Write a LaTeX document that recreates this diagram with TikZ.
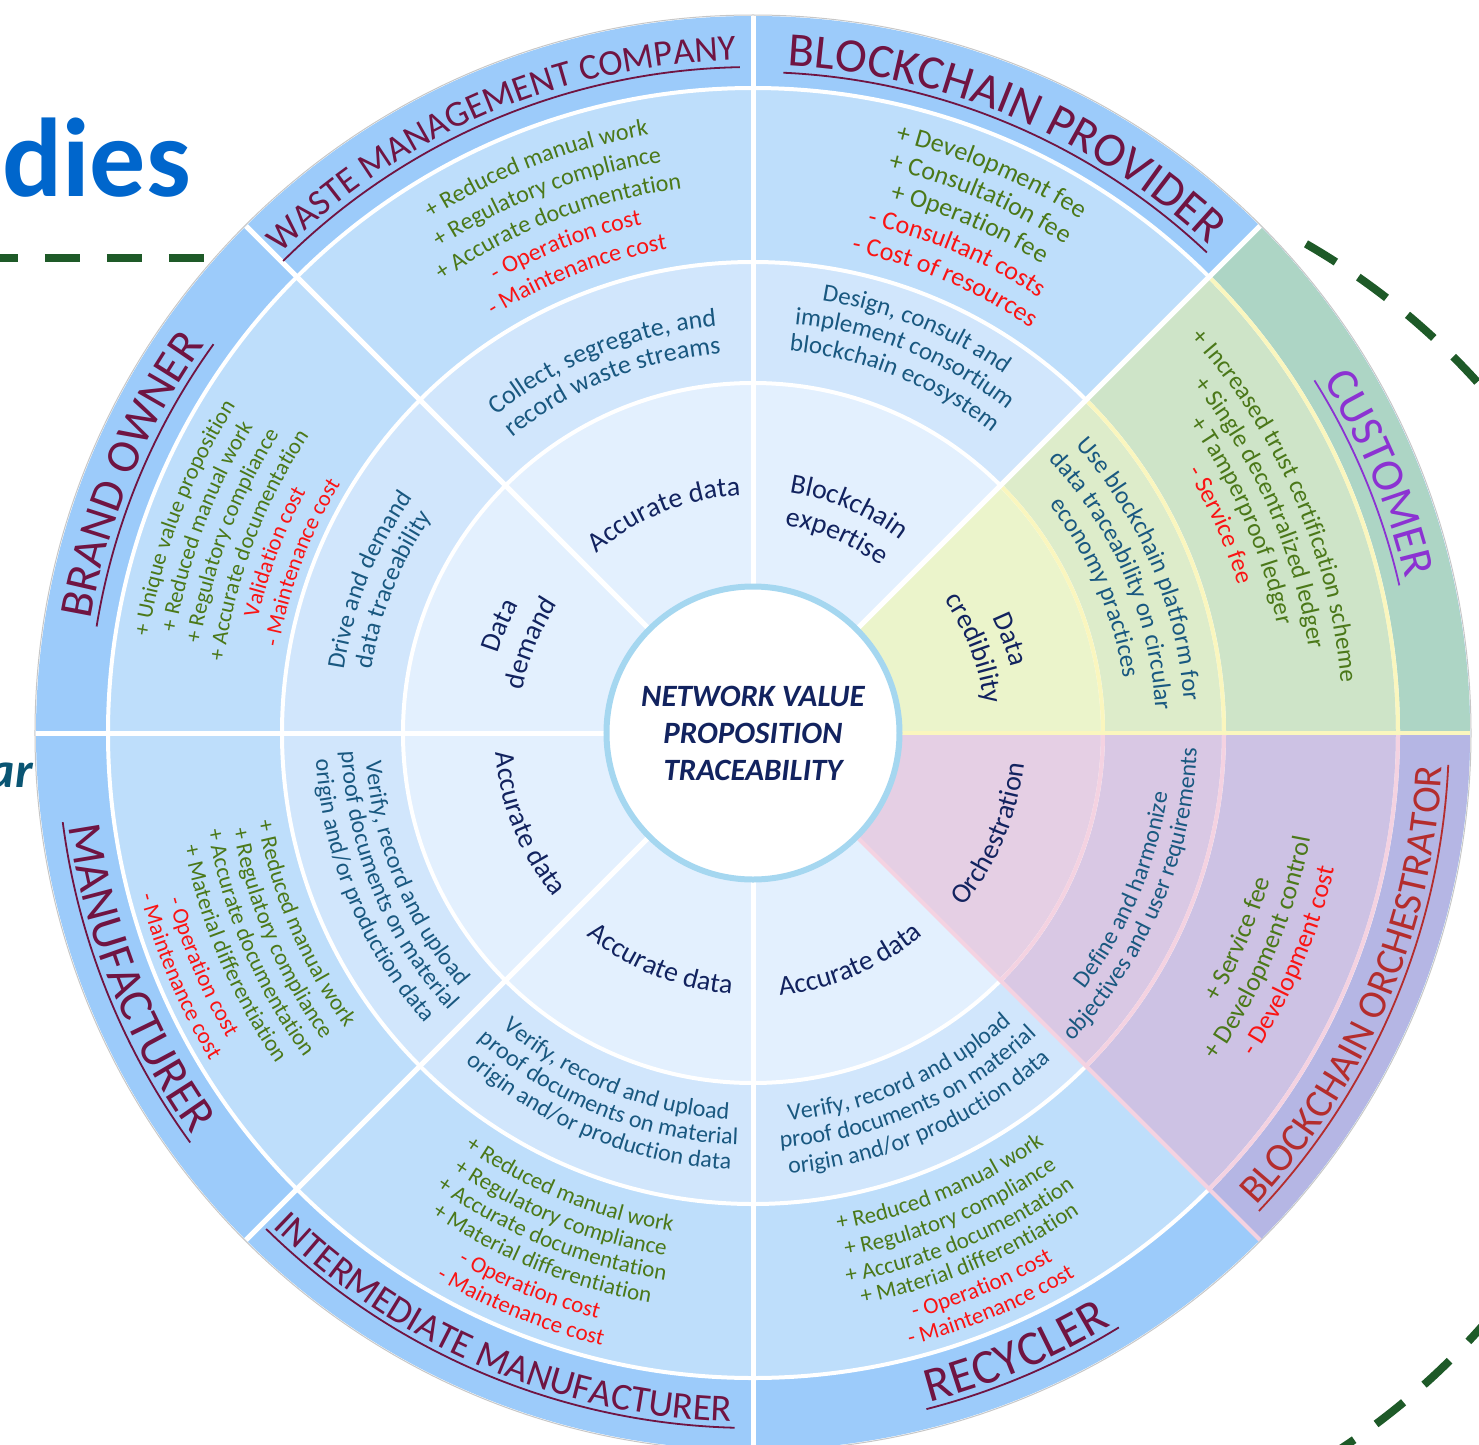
\documentclass[tikz,border=0pt]{standalone}
\usepackage{fontspec}
\setmainfont{Carlito}
\usetikzlibrary{decorations.text}
\definecolor{ring-name}{RGB}{156,203,250}
\definecolor{ring-gain}{RGB}{190,222,251}
\definecolor{ring-role}{RGB}{209,230,252}
\definecolor{ring-value}{RGB}{227,240,254}
\definecolor{cust-name}{RGB}{173,213,197}
\definecolor{cust-gain}{RGB}{206,228,200}
\definecolor{cust-role}{RGB}{221,236,202}
\definecolor{cust-value}{RGB}{235,244,203}
\definecolor{cust-line}{RGB}{250,246,190}
\definecolor{orch-name}{RGB}{181,182,228}
\definecolor{orch-gain}{RGB}{205,194,228}
\definecolor{orch-role}{RGB}{217,200,228}
\definecolor{orch-value}{RGB}{229,207,228}
\definecolor{orch-line}{RGB}{244,210,225}
\definecolor{hub-rim}{RGB}{165,215,240}
\definecolor{actor-red}{RGB}{112,20,66}
\definecolor{actor-purple}{RGB}{140,50,210}
\definecolor{actor-brick}{RGB}{180,45,45}
\definecolor{plus-green}{RGB}{75,120,25}
\definecolor{minus-red}{RGB}{250,20,20}
\definecolor{role-teal}{RGB}{25,88,128}
\definecolor{value-navy}{RGB}{18,35,95}
\definecolor{slide-blue}{RGB}{0,102,204}
\definecolor{slide-teal}{RGB}{10,85,115}
\definecolor{slide-green}{RGB}{30,90,40}
\newcommand\fsz[1]{\fontsize{#1}{#1}\selectfont}
\newcommand\gainfmt[1]{\fsz{#1}\color{plus-green}}
\newcommand\lossfmt[1]{\fsz{#1}\color{minus-red}}
\newcommand\rolefmt[1]{\fsz{#1}\color{role-teal}}
\newcommand\valuefmt{\fsz{28}\color{value-navy}}
% text on an arc: upper half read clockwise, lower half counter-clockwise
\newcommand\arcup[4]{\path[decorate,decoration={text along path,text align=center,text={|#3|#4}}]
	({#1+70}:#2) arc[start angle={#1+70},end angle={#1-70},radius=#2];}
\newcommand\arcdown[4]{\path[decorate,decoration={text along path,text align=center,text={|#3|#4}}]
	({#1-70}:#2) arc[start angle={#1-70},end angle={#1+70},radius=#2];}
% half the angle an actor name takes, measured on a hidden node
\newcommand\namespan[3]{\node[inner sep=0,font=\fsz{#2}] (namebox) at (0,0) {\phantom{#3}};
	\path (namebox.west); \pgfgetlastxy{\nwx}{\nwy}
	\path (namebox.east); \pgfgetlastxy{\nex}{\ney}
	\pgfmathsetmacro\uhalf{0.5*(\nex-\nwx)/#1*57.296+0.5}}
% actor names with their underline
\newcommand\nameup[5]{\namespan{#2}{#3}{#5}
	\arcup{#1}{#2}{\fsz{#3}\color{#4}}{#5}
	\draw[#4,line width=1.8] ({#1+\uhalf}:{#2-7}) arc[start angle={#1+\uhalf},end angle={#1-\uhalf},radius={#2-7}];}
\newcommand\namedown[5]{\namespan{#2}{#3}{#5}
	\arcdown{#1}{#2}{\fsz{#3}\color{#4}}{#5}
	\draw[#4,line width=1.8] ({#1-\uhalf}:{#2+6}) arc[start angle={#1-\uhalf},end angle={#1+\uhalf},radius={#2+6}];}
\begin{document}
\begin{tikzpicture}[x=1pt,y=1pt]
			\useasboundingbox (-753,-711) rectangle (726,733);
			\clip (-753,-711) rectangle (726,733);
			\node[anchor=base west,inner sep=0,font=\fsz{112}\bfseries,text=slide-blue] (heading) at (-751,536) {dies};	% slide title
			\node[anchor=base east,inner sep=0,font=\fsz{50}\bfseries\itshape,text=slide-teal] (subhead) at (-720,-54) {ar};
			\draw[slide-green,line width=8,dash pattern=on 35 off 27] (-770,475) -- (-549,475);			% dashed frame
			\draw[slide-green,line width=8,dash pattern=on 35 off 27] (199,-124) ++(60:708) arc[start angle=60,end angle=-62,radius=708];
			\fill[ring-name] (0,0) circle (717);								% rings
			\fill[ring-gain] (0,0) circle (645);
			\fill[ring-role] (0,0) circle (471);
			\fill[ring-value] (0,0) circle (350);
			\foreach \a/\b/\p in {0/45/cust,-45/0/orch}{						% coloured sectors
				\fill[fill=\p-name] (0,0) -- (\a:717) arc[start angle=\a,end angle=\b,radius=717] -- cycle;
				\fill[fill=\p-gain] (0,0) -- (\a:645) arc[start angle=\a,end angle=\b,radius=645] -- cycle;
				\fill[fill=\p-role] (0,0) -- (\a:471) arc[start angle=\a,end angle=\b,radius=471] -- cycle;
				\fill[fill=\p-value] (0,0) -- (\a:350) arc[start angle=\a,end angle=\b,radius=350] -- cycle;
			}
			\foreach \r in {350,471,645}{									% ring borders
				\draw[white,line width=4] (0,0) circle (\r);
				\draw[cust-line,line width=4] (0:\r) arc[start angle=0,end angle=45,radius=\r];
				\draw[orch-line,line width=4] (-45:\r) arc[start angle=-45,end angle=0,radius=\r];
			}
			\foreach \a in {45,90,...,270}{								% sector borders
				\draw[white,line width=5] (\a:146) -- (\a:717);
			}
			\draw[orch-line,line width=4] (315:146) -- (315:717);
			\draw[cust-line,line width=4] (0:146) -- (0:717);
			\draw[black!22,line width=1] (0,0) circle (718);					% rim
			\node[circle,draw=hub-rim,line width=6,fill=white,minimum size=293,align=center,
				font=\fontsize{31}{37}\selectfont\bfseries\itshape,text=value-navy] (hub) at (0,0)
				{NETWORK VALUE\\PROPOSITION\\TRACEABILITY};
			% waste management company
			\nameup{113}{673}{36.5}{actor-red}{WASTE MANAGEMENT COMPANY}
			\arcup{111}{607}{\gainfmt{24}}{+ Reduced manual work}
			\arcup{111}{578}{\gainfmt{24}}{+ Regulatory compliance}
			\arcup{111}{549}{\gainfmt{24}}{+ Accurate documentation}
			\arcup{111}{520}{\lossfmt{24}}{- Operation cost}
			\arcup{111}{491}{\lossfmt{24}}{- Maintenance cost}
			\arcup{112}{408}{\rolefmt{26}}{Collect, segregate, and}
			\arcup{112}{381}{\rolefmt{26}}{record waste streams}
			\arcup{112}{238}{\valuefmt}{Accurate data}
			% blockchain provider
			\nameup{67}{668}{48}{actor-red}{BLOCKCHAIN PROVIDER}
			\arcup{67}{609}{\gainfmt{26}}{+ Development fee}
			\arcup{67}{580}{\gainfmt{26}}{+ Consultation fee}
			\arcup{67}{551}{\gainfmt{26}}{+ Operation fee}
			\arcup{67}{521}{\lossfmt{26}}{- Consultant costs}
			\arcup{67}{491}{\lossfmt{26}}{- Cost of resources}
			\arcup{68}{438}{\rolefmt{25}}{Design, consult and}
			\arcup{68}{411}{\rolefmt{25}}{implement consortium}
			\arcup{68}{384}{\rolefmt{25}}{blockchain ecosystem}
			\arcup{67}{243}{\valuefmt}{Blockchain}
			\arcup{67}{210}{\valuefmt}{expertise}
			% customer
			\nameup{22.5}{670}{46}{actor-purple}{CUSTOMER}
			\arcup{23.5}{590}{\gainfmt{25}}{+ Increased trust certification scheme}
			\arcup{23.5}{562}{\gainfmt{25}}{+ Single decentralized ledger}
			\arcup{23.5}{535}{\gainfmt{25}}{+ Tamperproof ledger}
			\arcup{24}{507}{\lossfmt{25}}{- Service fee}
			\arcup{23}{432}{\rolefmt{25}}{Use blockchain platform for}
			\arcup{23}{403}{\rolefmt{25}}{data traceability on circular}
			\arcup{23}{374}{\rolefmt{25}}{economy practices}
			\arcup{20}{266}{\valuefmt}{Data}
			\arcup{21}{233}{\valuefmt}{credibility}
			% brand owner
			\nameup{157.5}{672}{47}{actor-red}{BRAND OWNER}
			\arcup{159.3}{612}{\gainfmt{22.5}}{+ Unique value proposition}
			\arcup{159.3}{586}{\gainfmt{22.5}}{+ Reduced manual work}
			\arcup{159.3}{560}{\gainfmt{22.5}}{+ Regulatory compliance}
			\arcup{159.3}{534}{\gainfmt{22.5}}{+ Accurate documentation}
			\arcup{159.3}{508}{\lossfmt{22.5}}{Validation cost}
			\arcup{159.3}{482}{\lossfmt{22.5}}{- Maintenance cost}
			\arcup{158.3}{414}{\rolefmt{25}}{Drive and demand}
			\arcup{158.3}{387}{\rolefmt{25}}{data traceability}
			\arcup{157}{267}{\valuefmt}{Data}
			\arcup{158}{234}{\valuefmt}{demand}
			% manufacturer
			\namedown{201.7}{690}{48}{actor-red}{MANUFACTURER}
			\arcdown{203}{503}{\gainfmt{23}}{+ Reduced manual work}
			\arcdown{203}{529}{\gainfmt{23}}{+ Regulatory compliance}
			\arcdown{203}{554}{\gainfmt{23}}{+ Accurate documentation}
			\arcdown{203}{580}{\gainfmt{23}}{+ Material differentiation}
			\arcdown{203}{608}{\lossfmt{23}}{- Operation cost}
			\arcdown{203}{634}{\lossfmt{23}}{- Maintenance cost}
			\arcdown{202.5}{388}{\rolefmt{24}}{Verify, record and upload}
			\arcdown{202.5}{412}{\rolefmt{24}}{proof documents on material}
			\arcdown{202.5}{438}{\rolefmt{24}}{origin and/or production data}
			\arcdown{202}{258}{\valuefmt}{Accurate data}
			% intermediate manufacturer
			\namedown{247}{689}{38}{actor-red}{INTERMEDIATE MANUFACTURER}
			\arcdown{248}{505}{\gainfmt{23}}{+ Reduced manual work}
			\arcdown{248}{530}{\gainfmt{23}}{+ Regulatory compliance}
			\arcdown{248}{554}{\gainfmt{23}}{+ Accurate documentation}
			\arcdown{248}{579}{\gainfmt{23}}{+ Material differentiation}
			\arcdown{248}{606}{\lossfmt{23}}{- Operation cost}
			\arcdown{248}{631}{\lossfmt{23}}{- Maintenance cost}
			\arcdown{248}{387}{\rolefmt{24}}{Verify, record and upload}
			\arcdown{248}{412}{\rolefmt{24}}{proof documents on material}
			\arcdown{248}{437}{\rolefmt{24}}{origin and/or production data}
			\arcdown{248}{262}{\valuefmt}{Accurate data}
			% recycler
			\namedown{293}{692}{49}{actor-red}{RECYCLER}
			\arcdown{292.5}{504}{\gainfmt{23}}{+ Reduced manual work}
			\arcdown{292.5}{531}{\gainfmt{23}}{+ Regulatory compliance}
			\arcdown{292.5}{557}{\gainfmt{23}}{+ Accurate documentation}
			\arcdown{292.5}{581}{\gainfmt{23}}{+ Material differentiation}
			\arcdown{292.5}{607}{\lossfmt{23}}{- Operation cost}
			\arcdown{292.5}{632}{\lossfmt{23}}{- Maintenance cost}
			\arcdown{293.5}{389}{\rolefmt{24}}{Verify, record and upload}
			\arcdown{293.5}{415}{\rolefmt{24}}{proof documents on material}
			\arcdown{293.5}{442}{\rolefmt{24}}{origin and/or production data}
			\arcdown{293}{264}{\valuefmt}{Accurate data}
			% blockchain orchestrator
			\namedown{337}{690}{40}{actor-brick}{BLOCKCHAIN ORCHESTRATOR}
			\arcdown{337}{537}{\gainfmt{26}}{+ Service fee}
			\arcdown{337}{567}{\gainfmt{26}}{+ Development control}
			\arcdown{337}{597}{\lossfmt{26}}{- Development cost}
			\arcdown{337}{419}{\rolefmt{24}}{Define and harmonize}
			\arcdown{337}{444}{\rolefmt{24}}{objectives and user requirements}
			\arcdown{337}{273}{\valuefmt}{Orchestration}
\end{tikzpicture}
\end{document}
